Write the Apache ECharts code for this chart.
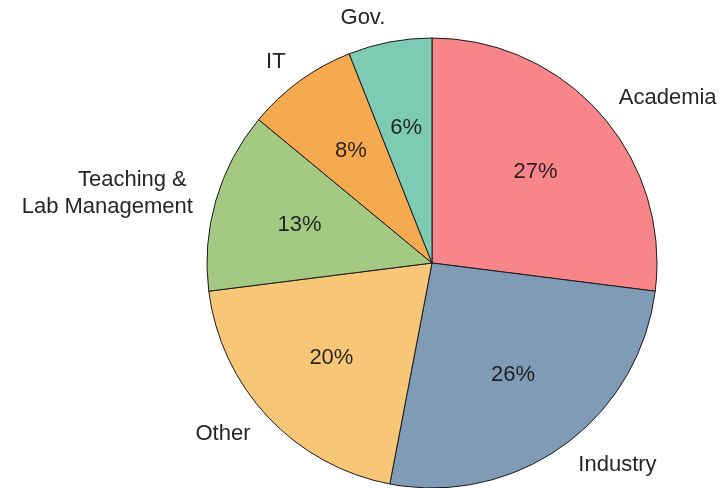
<!DOCTYPE html>
<html>
<head>
<meta charset="utf-8">
<script src="https://cdn.jsdelivr.net/npm/echarts@6/dist/echarts.min.js"></script>
<style>
  html, body { margin: 0; padding: 0; background: #fff; }
  #chart { width: 723px; height: 488px; }
</style>
</head>
<body>
<div id="chart"></div>
<script>
// Career sectors and their shares (percent)
const sectors = ['Academia', 'Industry', 'Other', 'Teaching & \nLab Management', 'IT', 'Gov.'];
const shares = [27, 26, 20, 13, 8, 6];
const colors = ['#F8858A', '#7F9BB6', '#F8C677', '#A4C983', '#F6AA4F', '#7ECBB3'];

const center = [432, 263];
const R = 225;

const slices = sectors.map((name, i) => ({
  name: name,
  value: shares[i],
  itemStyle: { color: colors[i] }
}));

const chart = echarts.init(document.getElementById('chart'), null, { renderer: 'canvas' });
chart.setOption({
  animation: false,
  series: [
    {
      // the pie itself, with sector names just outside the rim
      type: 'pie',
      center: center,
      radius: [0, R],
      startAngle: 90,
      clockwise: true,
      silent: true,
      data: slices,
      itemStyle: { borderColor: '#1a1a1a', borderWidth: 1 },
      label: {
        show: true,
        position: 'outside',
        formatter: '{b}',
        fontFamily: 'Liberation Sans, Arial, sans-serif',
        fontSize: 22,
        lineHeight: 27,
        color: '#262626',
        align: 'right',
        distanceToLabelLine: 0
      },
      labelLine: { show: false, length: 24, length2: 0 },
      avoidLabelOverlap: false
    },
    {
      // transparent ring that carries the percentage labels at ~0.6 R
      type: 'pie',
      center: center,
      radius: [R * 0.2, R],
      startAngle: 90,
      clockwise: true,
      silent: true,
      data: slices.map(d => ({ name: d.name, value: d.value })),
      itemStyle: { color: 'rgba(0,0,0,0)', borderWidth: 0 },
      label: {
        show: true,
        position: 'inside',
        formatter: '{c}%',
        fontFamily: 'Liberation Sans, Arial, sans-serif',
        fontSize: 22,
        color: 'rgba(15,15,15,0.88)'
      },
      labelLine: { show: false }
    }
  ]
});
</script>
</body>
</html>
